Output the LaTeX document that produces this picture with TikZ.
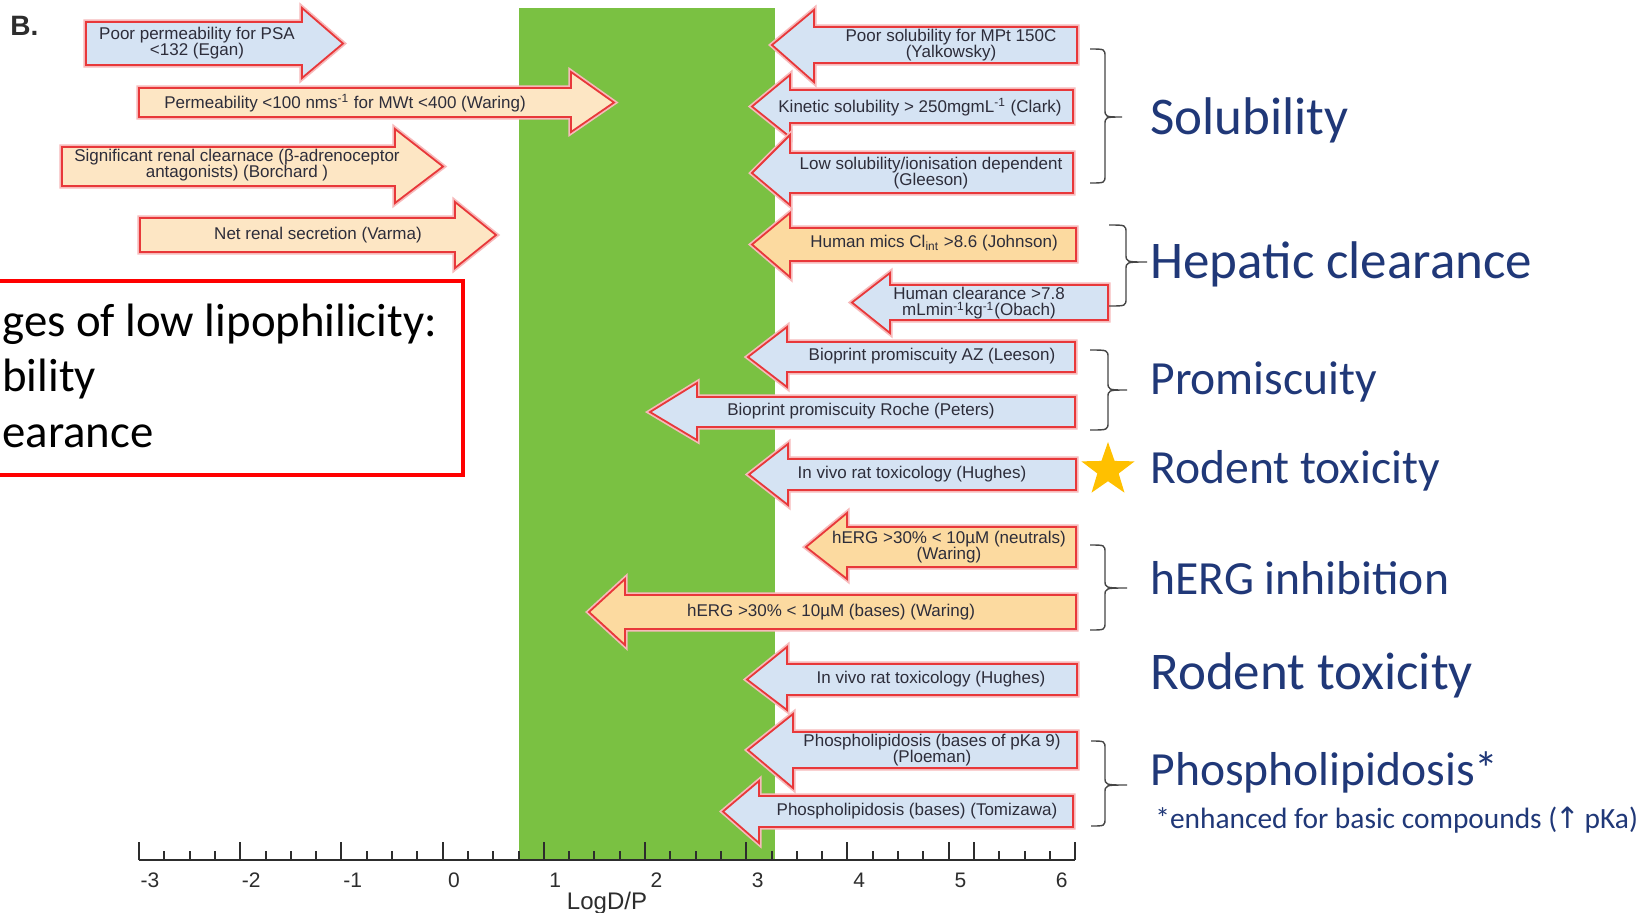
\documentclass[tikz,border=0pt]{standalone}
\usepackage{fontspec}
\setmainfont{Liberation Sans}
\newfontfamily\calib{Carlito}
\newfontfamily\djv{DejaVu Sans}
\usetikzlibrary{shapes.geometric}
\definecolor{bandgreen}{RGB}{122,193,66}
\definecolor{ablue}{RGB}{213,227,243}
\definecolor{aorange}{RGB}{253,230,196}
\definecolor{aorangeb}{RGB}{252,218,160}
\definecolor{ared}{RGB}{232,56,58}
\definecolor{atext}{RGB}{45,45,58}
\definecolor{navy}{RGB}{32,56,120}
\definecolor{starcol}{RGB}{255,192,0}
\definecolor{bracecol}{RGB}{70,70,70}
\definecolor{axiscol}{RGB}{45,45,45}
\tikzset{
  arrowshape/.style={draw=ared, line width=0.9pt, line join=miter,
     preaction={draw=ared!35, line width=2.6pt}},
  atxt/.style={text=atext, font=\fontsize{8.5}{8.3}\selectfont, align=center, inner sep=0pt},
  bracestyle/.style={draw=bracecol, line width=0.7pt},
  biglab/.style={text=navy, font=\calib\fontsize{26.5}{30}\selectfont, anchor=base west, inner sep=0pt},
  lab/.style={text=navy, font=\calib\fontsize{23.8}{27}\selectfont, anchor=base west, inner sep=0pt},
  boxtxt/.style={text=black, font=\calib\fontsize{23.4}{28}\selectfont, anchor=base west, inner sep=0pt},
  ticklab/.style={text=axiscol, font=\fontsize{10.5}{11}\selectfont, anchor=base, inner sep=0pt},
  axisline/.style={draw=axiscol, line width=1pt}
}
% fill, base end x, head base x, tip x, body top, body bottom, head top, head bottom
\newcommand\Arr[8]{\draw[arrowshape, fill=#1] (#2,#5) -- (#3,#5) -- (#3,#7) -- (#4,{(#5+#6)/2}) -- (#3,#8) -- (#3,#6) -- (#2,#6) -- cycle;}
% hook x, vertical x, tip x, top, mid, bottom
\newcommand\RBrace[6]{\draw[bracestyle] (#1,#4) .. controls (#2,#4) .. (#2,{#4+8}) -- (#2,{#5-8}) .. controls (#2,#5) .. (#3,#5) .. controls (#2,#5) .. (#2,{#5+8}) -- (#2,{#6-8}) .. controls (#2,#6) .. (#1,#6);}
\begin{document}
\begin{tikzpicture}[x=0.5pt,y=-0.5pt]
\useasboundingbox (0,0) rectangle (1644,912);
\clip (0,0) rectangle (1644,912);
\fill[white] (0,0) rectangle (1644,912);
% green band
\fill[bandgreen] (519,8) rectangle (774.5,860);
% axis
\draw[axisline, line width=1.2pt] (139,860) -- (1075,860);
\foreach \i in {0,...,37}{\draw[axisline] ({139+25.3*\i},860) -- ++(0,-9);}
\foreach \i in {0,4,...,32,33,37}{\draw[axisline] ({139+25.3*\i},860) -- ++(0,-18);}
\foreach \v [count=\k from 0] in {-3,-2,-1,0,1,2,3,4,5,6}{\node[ticklab] (t\k) at ({150+101.3*\k},887) {\v};}
\node[text=axiscol, font=\fontsize{12}{12}\selectfont, anchor=base, inner sep=0pt] (logdp) at (607,909) {LogD/P};
% B label
\node[text=axiscol, font=\bfseries\fontsize{14}{14}\selectfont, anchor=base west, inner sep=0pt] (blab) at (10,35) {B.};
% right-pointing arrows
\Arr{ablue}{86}{302}{343}{22}{65}{8}{78}
\node[atxt] (egan) at (197,43) {Poor permeability for PSA\\<132 (Egan)};
\Arr{aorange}{139}{571}{614}{88}{117}{72}{132}
\node[atxt] (waringp) at (345,103) {Permeability <100 nms\textsuperscript{-1} for MWt <400 (Waring)};
\Arr{aorange}{62}{395}{443}{147}{186}{129}{203}
\node[atxt] (borchard) at (237,165) {Significant renal clearnace (β-adrenoceptor\\antagonists) (Borchard )};
\Arr{aorange}{140}{455}{496}{218}{252}{202}{268}
\node[atxt] (varma) at (318,235) {Net renal secretion (Varma)};
% left-pointing arrows
\Arr{ablue}{1077}{814}{772}{27}{63}{10}{82}
\node[atxt] (yalk) at (951,45) {Poor solubility for MPt 150C\\(Yalkowsky)};
\Arr{ablue}{1073}{790}{752}{90}{123}{75}{137}
\node[atxt] (clark) at (920,107) {Kinetic solubility > 250mgmL\textsuperscript{-1} (Clark)};
\Arr{ablue}{1073}{790}{752}{153}{193}{135}{205}
\node[atxt] (gleeson) at (931,173) {Low solubility/ionisation dependent\\(Gleeson)};
\Arr{aorangeb}{1076}{790}{752}{228}{261}{213}{277}
\node[atxt] (johnson) at (934,243) {Human mics Cl\textsubscript{int} >8.6 (Johnson)};
\Arr{ablue}{1108}{890}{852}{285}{320}{273}{333}
\node[atxt] (obach) at (979,303) {Human clearance >7.8\\mLmin\textsuperscript{-1}kg\textsuperscript{-1}(Obach)};
\Arr{ablue}{1075}{787}{748}{342}{372}{327}{387}
\node[atxt] (leeson) at (932,356) {Bioprint promiscuity AZ (Leeson)};
\Arr{ablue}{1075}{697}{650}{397}{427}{383}{440}
\node[atxt] (peters) at (861,411) {Bioprint promiscuity Roche (Peters)};
\Arr{ablue}{1076}{788}{749}{459}{490}{444}{505}
\node[atxt] (hughesa) at (912,474) {In vivo rat toxicology (Hughes)};
\Arr{aorangeb}{1076}{847}{806}{527}{567}{513}{579}
\node[atxt] (hergn) at (949,547) {hERG >30\% < 10µM (neutrals)\\(Waring)};
\Arr{aorangeb}{1076}{625}{589}{595}{629}{579}{645}
\node[atxt] (hergb) at (831,612) {hERG >30\% < 10µM (bases) (Waring)};
\Arr{ablue}{1077}{787}{747}{664}{695}{647}{710}
\node[atxt] (hughesb) at (931,679) {In vivo rat toxicology (Hughes)};
\Arr{ablue}{1077}{793}{748}{732}{768}{714}{788}
\node[atxt] (ploeman) at (932,750) {Phospholipidosis (bases of pKa 9)\\(Ploeman)};
\Arr{ablue}{1073}{759}{723}{796}{827}{781}{843}
\node[atxt] (tomizawa) at (917,811) {Phospholipidosis (bases) (Tomizawa)};
% red box
\draw[red, line width=2pt] (-20,281) rectangle (463,475);
\node[boxtxt] (bx1) at (2,336) {ges of low lipophilicity:};
\node[boxtxt] (bx2) at (2,391) {bility};
\node[boxtxt] (bx3) at (2,447) {earance};
% braces
\RBrace{1090}{1105}{1122}{49}{117}{183}
\RBrace{1109}{1126}{1147}{225}{262}{306}
\RBrace{1090}{1108}{1127}{350}{390}{430}
\RBrace{1090}{1105}{1127}{545}{588}{630}
\RBrace{1091}{1105}{1127}{741}{785}{826}
% star
\node[star, star points=5, star point ratio=2.5, fill=starcol, minimum size=28pt, inner sep=0pt] (star) at (1108,470) {};
% right labels
\node[biglab] (sol) at (1150,134) {Solubility};
\node[biglab] (hep) at (1150,278) {Hepatic clearance};
\node[lab] (prom) at (1150,394) {Promiscuity};
\node[lab] (roda) at (1150,483) {Rodent toxicity};
\node[lab] (herg) at (1150,594) {hERG inhibition};
\node[biglab] (rodb) at (1150,689) {Rodent toxicity};
\node[lab] (phos) at (1150,785) {Phospholipidosis*};
\node[text=navy, font=\calib\fontsize{14.7}{17}\selectfont, anchor=base west, inner sep=0pt] (foot) at (1155,828) {*enhanced for basic compounds (\kern-1pt{\djv ↑}\kern-1pt{} pKa)};
\end{tikzpicture}
\end{document}
